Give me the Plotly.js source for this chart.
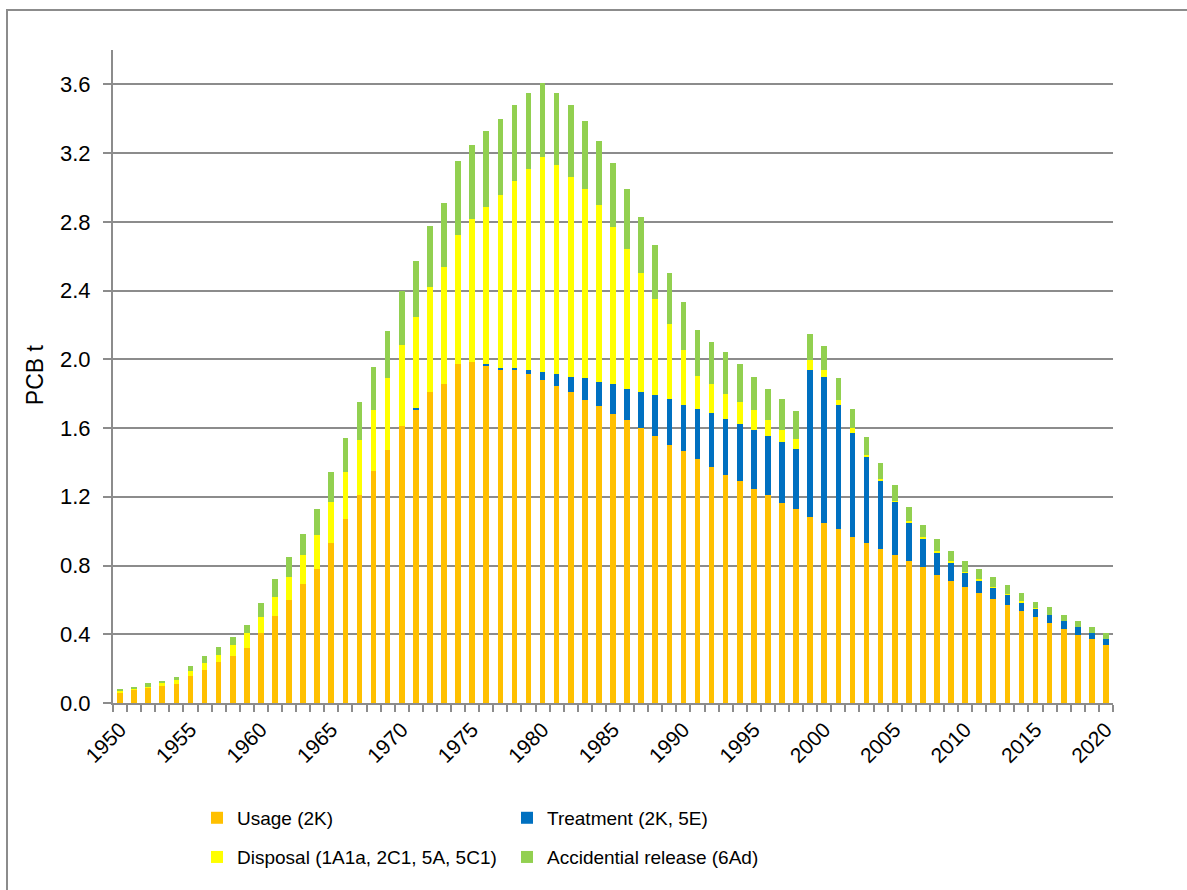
<!DOCTYPE html>
<html>
<head>
<meta charset="utf-8">
<script src="https://cdn.plot.ly/plotly-3.0.1.min.js"></script>
<style>
  html, body { margin: 0; padding: 0; background: #ffffff; }
  #wrap { position: relative; width: 1187px; height: 890px; overflow: hidden; }
  #chart { position: absolute; left: 0; top: 0; width: 1187px; height: 890px; }
  #frame { position: absolute; left: 6px; top: 9px; width: 1300px; height: 1000px;
           border-left: 2px solid #8c8c8c; border-top: 2px solid #8c8c8c; pointer-events: none; }
</style>
</head>
<body>
<div id="wrap"><div id="chart"></div><div id="frame"></div></div>
<script>
// Years 1950..2020
const years = [];
for (let y = 1950; y <= 2020; y++) years.push(y);

const seriesNames = ["Usage (2K)", "Treatment (2K, 5E)", "Disposal (1A1a, 2C1, 5A, 5C1)", "Accidential release (6Ad)"];

// PCB emissions in t, per source
const usage = [
  0.058, 0.075, 0.086, 0.097, 0.110, 0.156, 0.190, 0.237, 0.272, 0.320,
  0.408, 0.505, 0.598, 0.693, 0.782, 0.930, 1.068, 1.211, 1.349, 1.475,
  1.610, 1.705, 1.810, 1.859, 1.971, 1.983, 1.962, 1.937, 1.937, 1.912,
  1.878, 1.842, 1.807, 1.761, 1.726, 1.680, 1.644, 1.598, 1.551, 1.504,
  1.469, 1.422, 1.375, 1.328, 1.293, 1.246, 1.211, 1.164, 1.129, 1.082,
  1.047, 1.012, 0.965, 0.930, 0.899, 0.864, 0.829, 0.794, 0.747, 0.712,
  0.677, 0.642, 0.607, 0.572, 0.537, 0.500, 0.465, 0.430, 0.396, 0.372,
  0.337
];
const treatment = [
  0, 0, 0, 0, 0, 0, 0, 0, 0, 0,
  0, 0, 0, 0, 0, 0, 0, 0, 0, 0,
  0, 0.010, 0, 0, 0, 0, 0.010, 0.010, 0.010, 0.023,
  0.046, 0.070, 0.093, 0.128, 0.140, 0.174, 0.186, 0.209, 0.244, 0.267,
  0.267, 0.291, 0.314, 0.326, 0.328, 0.340, 0.340, 0.352, 0.351, 0.854,
  0.853, 0.724, 0.607, 0.504, 0.395, 0.303, 0.221, 0.163, 0.128, 0.105,
  0.080, 0.070, 0.060, 0.056, 0.047, 0.046, 0.046, 0.046, 0.045, 0.034,
  0.033
];
const disposal = [
  0.014, 0.009, 0.008, 0.020, 0.021, 0.032, 0.043, 0.043, 0.068, 0.088,
  0.095, 0.112, 0.136, 0.169, 0.197, 0.238, 0.275, 0.318, 0.354, 0.415,
  0.475, 0.534, 0.609, 0.677, 0.753, 0.831, 0.913, 1.008, 1.090, 1.172,
  1.253, 1.218, 1.160, 1.101, 1.031, 0.915, 0.811, 0.696, 0.556, 0.434,
  0.319, 0.189, 0.166, 0.143, 0.129, 0.117, 0.093, 0.070, 0.059, 0.058,
  0.036, 0.026, 0.028, 0.011, 0.010, 0.010, 0.010, 0.010, 0.010, 0.010,
  0.004, 0.012, 0.010, 0.004, 0.009, 0.004, 0.002, 0.002, 0.002, 0.002,
  0.002
];
const accidental = [
  0.012, 0.012, 0.023, 0.013, 0.023, 0.025, 0.039, 0.048, 0.046, 0.048,
  0.080, 0.105, 0.116, 0.124, 0.149, 0.175, 0.198, 0.221, 0.255, 0.277,
  0.315, 0.326, 0.354, 0.375, 0.429, 0.431, 0.443, 0.441, 0.441, 0.441,
  0.431, 0.418, 0.418, 0.394, 0.373, 0.373, 0.351, 0.328, 0.317, 0.300,
  0.278, 0.266, 0.245, 0.244, 0.221, 0.197, 0.186, 0.185, 0.162, 0.152,
  0.140, 0.127, 0.113, 0.104, 0.093, 0.093, 0.082, 0.070, 0.070, 0.060,
  0.068, 0.058, 0.058, 0.057, 0.049, 0.039, 0.045, 0.034, 0.035, 0.034,
  0.034
];

const colors = ["#FFC000", "#0070C0", "#FFFF00", "#92D050"];
const values = [usage, treatment, disposal, accidental];
const legendIds = ["legend", "legend2", "legend3", "legend4"];

const FONT = "Liberation Sans, Arial, Helvetica, sans-serif";
const GRAY = "#8c8c8c";

const traces = values.map((v, i) => ({
  type: "bar",
  x: years,
  y: v,
  name: seriesNames[i],
  legend: legendIds[i],
  marker: { color: colors[i], line: { width: 0 } },
  hoverinfo: "x+y+name"
}));

function legendAt(x, y) {
  return {
    x: x, y: y, xanchor: "left", yanchor: "middle",
    xref: "paper", yref: "paper",
    bgcolor: "rgba(0,0,0,0)", borderwidth: 0,
    font: { family: FONT, size: 19, color: "#000000" },
    itemwidth: 30
  };
}

const layout = {
  width: 1187, height: 890, autosize: false,
  margin: { l: 113, r: 74, t: 50, b: 187, pad: 0 },
  paper_bgcolor: "#ffffff", plot_bgcolor: "#ffffff",
  barmode: "stack", bargap: 0.6,
  font: { family: FONT, size: 21, color: "#000000" },
  showlegend: true,
  legend: legendAt(0.084, -0.176),
  legend2: legendAt(0.394, -0.176),
  legend3: legendAt(0.084, -0.236),
  legend4: legendAt(0.394, -0.236),
  xaxis: {
    type: "linear",
    range: [1949.5, 2020.5],
    tickmode: "linear", tick0: 1950, dtick: 5,
    ticks: "", tickangle: -45,
    tickfont: { family: FONT, size: 21, color: "#000000" },
    ticklabelstandoff: 4,
    minor: { tick0: 1949.5, dtick: 1, ticks: "outside", ticklen: 7, tickwidth: 2, tickcolor: GRAY, showgrid: false },
    showline: true, linecolor: GRAY, linewidth: 2,
    showgrid: false, zeroline: false, fixedrange: true
  },
  yaxis: {
    range: [0, 3.8],
    tickmode: "linear", tick0: 0, dtick: 0.4, tickformat: ".1f",
    ticks: "outside", ticklen: 8, tickwidth: 2, tickcolor: GRAY,
    tickfont: { family: FONT, size: 22, color: "#000000" },
    ticklabelstandoff: 8,
    showline: true, linecolor: GRAY, linewidth: 2,
    showgrid: true, gridcolor: GRAY, gridwidth: 2,
    zeroline: false, fixedrange: true
  },
  annotations: [{
    text: "PCB t", textangle: -90,
    xref: "paper", yref: "paper", x: -0.078, y: 0.502,
    xanchor: "center", yanchor: "middle", showarrow: false,
    font: { family: FONT, size: 23, color: "#000000" }
  }]
};

Plotly.newPlot("chart", traces, layout, { displayModeBar: false, staticPlot: true });
</script>
</body>
</html>
